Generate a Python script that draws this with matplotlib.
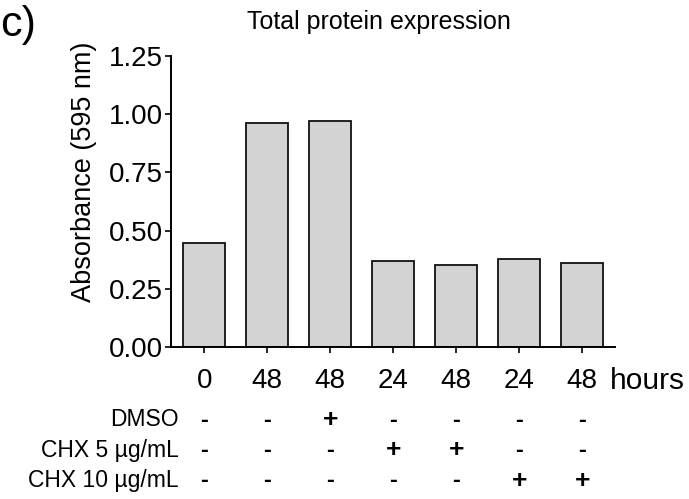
import matplotlib.pyplot as plt
import matplotlib.transforms as mtransforms

plt.rcParams['font.family'] = ['Liberation Sans', 'DejaVu Sans']

# data
hours = ["0", "48", "48", "24", "48", "24", "48"]
absorbance = [0.445, 0.962, 0.970, 0.370, 0.353, 0.377, 0.362]
row_labels = ["DMSO", "CHX 5 µg/mL", "CHX 10 µg/mL"]
dmso = ["-", "-", "+", "-", "-", "-", "-"]
chx5 = ["-", "-", "-", "+", "+", "-", "-"]
chx10 = ["-", "-", "-", "-", "-", "+", "+"]
yticks = [0.00, 0.25, 0.50, 0.75, 1.00, 1.25]

W, H = 689, 499
fig = plt.figure(figsize=(W / 100, H / 100), dpi=100)
ax = fig.add_axes([171 / W, 1 - 347 / H, (615 - 171) / W, (347 - 56) / H])

x = list(range(len(absorbance)))
ax.bar(x, absorbance, width=0.67, color="#d3d3d3", edgecolor="#111111", linewidth=1.3)

ax.set_xlim(-0.53, 6.52)
ax.set_ylim(0, 1.25)
ax.set_yticks(yticks)
ax.set_yticklabels([f"{v:.2f}" for v in yticks], fontsize=20)
ax.set_xticks(x)
ax.set_xticklabels([])
ax.tick_params(axis="both", direction="out", length=4, width=1.2, pad=2)
for s in ["top", "right"]:
    ax.spines[s].set_visible(False)
for s in ["left", "bottom"]:
    ax.spines[s].set_linewidth(1.4)

fig.text(84 / W, 1 - 172 / H, "Absorbance (595 nm)", rotation=90,
         ha="center", va="center", fontsize=19.5)
fig.text(379 / W, 1 - 22 / H, "Total protein expression", ha="center",
         va="center", fontsize=18)
fig.text(0 / W, 1 - 25 / H, "c)", ha="left", va="center", fontsize=31)

trans = mtransforms.blended_transform_factory(ax.transData, fig.transFigure)
for xi, h in zip(x, hours):
    ax.text(xi, 1 - 381 / H, h, transform=trans, ha="center", va="center",
            fontsize=20)
ax.text(610 / W, 1 - 381 / H, "hours", transform=fig.transFigure,
        ha="left", va="center", fontsize=21.5)

rows_y = [420, 450, 481]
for label, marks, yy in zip(row_labels, [dmso, chx5, chx10], rows_y):
    fig.text(179 / W, 1 - yy / H, label, ha="right", va="center", fontsize=16.5)
    for xi, m in zip(x, marks):
        ax.text(xi, 1 - yy / H, m, transform=trans, ha="center", va="center",
                fontsize=19 if m == "+" else 17, fontweight="bold")

fig.savefig("out.png", dpi=100)
plt.close(fig)
